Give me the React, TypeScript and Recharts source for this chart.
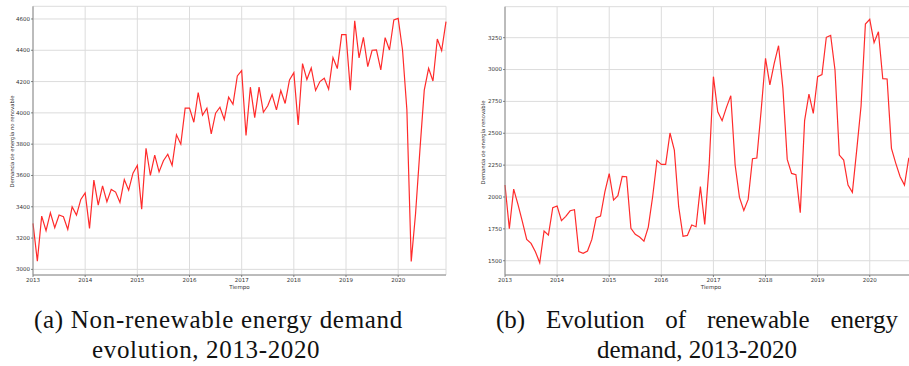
import React from 'react';
import { LineChart, Line, XAxis, YAxis, CartesianGrid } from 'recharts';

const YEARS = ['2013', '2014', '2015', '2016', '2017', '2018', '2019', '2020'];
const MONTH_COUNT = 96;

const nonRenewable = [
  3294, 3053, 3340, 3247, 3362, 3266, 3347, 3336, 3255, 3400, 3347, 3447,
  3489, 3262, 3570, 3411, 3534, 3432, 3511, 3494, 3428, 3574, 3506, 3615,
  3664, 3385, 3774, 3600, 3730, 3623, 3694, 3736, 3664, 3860, 3800, 4030,
  4030, 3940, 4130, 3985, 4030, 3866, 3998, 4036, 3958, 4100, 4055, 4236,
  4270, 3855, 4164, 3970, 4164, 4004, 4045, 4117, 4019, 4143, 4060, 4211,
  4257, 3923, 4315, 4213, 4287, 4143, 4200, 4221, 4151, 4353, 4283, 4500,
  4500, 4145, 4589, 4351, 4483, 4296, 4400, 4402, 4274, 4481, 4402, 4594,
  4604, 4402, 4020, 3050, 3357, 3762, 4145, 4285, 4204, 4472, 4398, 4583,
];

const renewable = [
  2094, 1751, 2062, 1940, 1806, 1667, 1636, 1571, 1484, 1733, 1701, 1916,
  1929, 1814, 1848, 1892, 1900, 1571, 1558, 1576, 1667, 1837, 1850, 2041,
  2183, 1976, 2010, 2162, 2159, 1754, 1707, 1686, 1654, 1764, 2002, 2287,
  2256, 2256, 2502, 2368, 1924, 1692, 1699, 1780, 1767, 2081, 1785, 2238,
  2944, 2669, 2599, 2703, 2795, 2251, 1997, 1895, 1981, 2300, 2306, 2682,
  3088, 2879, 3049, 3187, 2852, 2295, 2185, 2175, 1877, 2599, 2808, 2656,
  2944, 2960, 3253, 3268, 2996, 2329, 2290, 2094, 2036, 2368, 2714, 3357,
  3394, 3211, 3297, 2928, 2926, 2382, 2264, 2159, 2094, 2308,
];

const nonRenewableTicks = [3000, 3200, 3400, 3600, 3800, 4000, 4200, 4400, 4600];
const renewableTicks = [1500, 1750, 2000, 2250, 2500, 2750, 3000, 3250];

const yearTicks = YEARS.map((_, i) => i * 12);
const quarterTicks = Array.from({ length: MONTH_COUNT / 3 }, (_, i) => i * 3).filter((t) => t % 12 !== 0);

const toRows = (vals: number[]) => vals.map((v, i) => ({ t: i, v }));

const FONT = '"DejaVu Sans", sans-serif';
const TICK_STYLE = { fontSize: 5.5, fill: '#333', fontFamily: FONT };
const FRAME = '#8a8a8a';

type PanelProps = {
  rows: { t: number; v: number }[];
  domain: [number, number];
  ticks: number[];
  width: number;
  height: number;
  margin: { top: number; right: number; bottom: number; left: number };
  yWidth: number;
};

function Panel({ rows, domain, ticks, width, height, margin, yWidth }: PanelProps) {
  return (
    <LineChart width={width} height={height} data={rows} margin={margin}>
      <CartesianGrid stroke="#dcdcdc" strokeWidth={1} />
      <XAxis
        xAxisId="minor"
        dataKey="t"
        type="number"
        domain={[0, MONTH_COUNT - 1]}
        ticks={quarterTicks}
        height={0}
        axisLine={false}
        tickLine={{ stroke: '#666', strokeWidth: 0.8 }}
        tickSize={1.5}
        tick={() => <g />}
        interval={0}
      />
      <XAxis
        dataKey="t"
        type="number"
        domain={[0, MONTH_COUNT - 1]}
        ticks={yearTicks}
        interval={0}
        height={20}
        tickFormatter={(v: number) => YEARS[Math.round(v / 12)]}
        tick={TICK_STYLE}
        tickSize={2}
        tickMargin={1}
        axisLine={{ stroke: FRAME, strokeWidth: 1 }}
        tickLine={{ stroke: '#666', strokeWidth: 0.8 }}
      />
      <XAxis
        xAxisId="top"
        orientation="top"
        type="number"
        domain={[0, MONTH_COUNT - 1]}
        height={0}
        tick={false}
        tickLine={false}
        axisLine={{ stroke: FRAME, strokeWidth: 1 }}
      />
      <YAxis
        type="number"
        domain={domain}
        ticks={ticks}
        interval={0}
        width={yWidth}
        tick={TICK_STYLE}
        tickSize={2}
        tickMargin={1}
        axisLine={{ stroke: FRAME, strokeWidth: 1 }}
        tickLine={{ stroke: '#666', strokeWidth: 0.8 }}
        allowDataOverflow
      />
      <YAxis
        yAxisId="right"
        orientation="right"
        type="number"
        domain={domain}
        width={0}
        tick={false}
        tickLine={false}
        axisLine={{ stroke: FRAME, strokeWidth: 1 }}
      />
      <Line
        dataKey="v"
        type="linear"
        stroke="#ff2b2b"
        strokeWidth={1.2}
        dot={false}
        isAnimationActive={false}
      />
    </LineChart>
  );
}

const captionStyle: React.CSSProperties = {
  position: 'absolute',
  fontFamily: '"Liberation Serif", "Times New Roman", serif',
  fontSize: 25,
  lineHeight: '30px',
  color: '#111',
  whiteSpace: 'nowrap',
};

const justified: React.CSSProperties = { textAlign: 'justify', textAlignLast: 'justify' };

export default function App() {
  return (
    <div
      style={{
        position: 'absolute',
        left: 0,
        top: 0,
        width: 909,
        height: 366,
        overflow: 'hidden',
        background: '#fff',
      }}
    >
      <div style={{ position: 'absolute', left: 0, top: 0 }}>
        <Panel
          rows={toRows(nonRenewable)}
          domain={[2964, 4681]}
          ticks={nonRenewableTicks}
          width={460}
          height={300}
          margin={{ top: 6.3, right: 14, bottom: 5, left: 0 }}
          yWidth={33}
        />
      </div>
      <div style={{ position: 'absolute', left: 460, top: 0 }}>
        <Panel
          rows={toRows(renewable)}
          domain={[1388, 3493]}
          ticks={renewableTicks}
          width={470}
          height={300}
          margin={{ top: 6.7, right: 12.5, bottom: 5, left: 0 }}
          yWidth={45}
        />
      </div>
      <svg
        width={909}
        height={300}
        style={{ position: 'absolute', left: 0, top: 0, pointerEvents: 'none' }}
      >
        <text
          x={11.7}
          y={141.5}
          transform="rotate(-90 11.7 141.5)"
          textAnchor="middle"
          dominantBaseline="central"
          style={{ fontSize: 5.3, fill: '#333', fontFamily: FONT }}
        >
          Demanda de energía no renovable
        </text>
        <text
          x={239.5}
          y={287.3}
          textAnchor="middle"
          dominantBaseline="central"
          style={{ fontSize: 5.5, fill: '#333', fontFamily: FONT }}
        >
          Tiempo
        </text>
        <text
          x={483.3}
          y={142.5}
          transform="rotate(-90 483.3 142.5)"
          textAnchor="middle"
          dominantBaseline="central"
          style={{ fontSize: 5.3, fill: '#333', fontFamily: FONT }}
        >
          Demanda de energía renovable
        </text>
        <text
          x={711}
          y={287.3}
          textAnchor="middle"
          dominantBaseline="central"
          style={{ fontSize: 5.5, fill: '#333', fontFamily: FONT }}
        >
          Tiempo
        </text>
      </svg>
      <div style={{ ...captionStyle, left: 34, top: 304.6, letterSpacing: 0.7 }}>
        <div>(a) Non-renewable energy demand</div>
      </div>
      <div style={{ ...captionStyle, left: 92, top: 334.6, letterSpacing: 0.65 }}>
        <div>evolution, 2013-2020</div>
      </div>
      <div style={{ ...captionStyle, left: 496, top: 304.6, width: 402, textAlign: 'center' }}>
        <div style={justified}>(b) Evolution of renewable energy</div>
        <div>demand, 2013-2020</div>
      </div>
    </div>
  );
}
